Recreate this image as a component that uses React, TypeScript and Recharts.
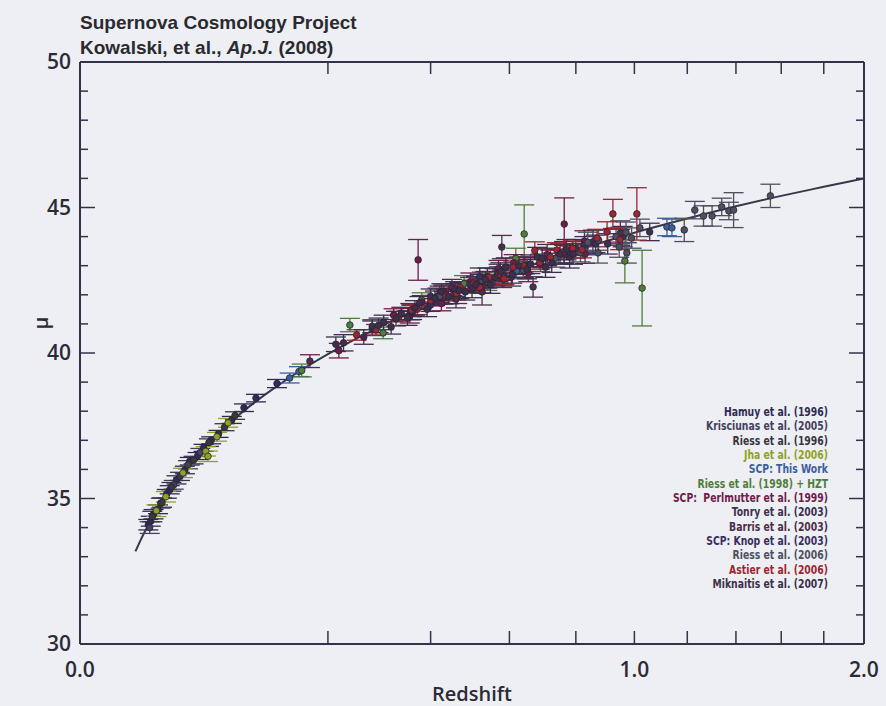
import React from 'react';
import { ComposedChart, XAxis, YAxis, Line, Scatter, ErrorBar, ReferenceLine } from 'recharts';

// ---------- layout ----------
const W = 886;
const H = 706;
const PLOT = { left: 80, right: 864, top: 62, bottom: 644 };
const AXIS = '#35314a';
const BG = '#edeff4';
const TEXT = '#2c2a36';

// ---------- ticks ----------
const X_TICKS = [0, 0.2, 0.4, 0.6, 0.8, 1.0, 1.2, 1.4, 1.6, 1.8, 2.0];
const X_LABELS = [0, 1, 2];
const Y_TICKS = [30, 31, 32, 33, 34, 35, 36, 37, 38, 39, 40, 41, 42, 43, 44, 45, 46, 47, 48, 49, 50];
const Y_MAJOR = [35, 40, 45];
const Y_LABELS = [30, 35, 40, 45, 50];

// ---------- best-fit curve ----------
const FIT_Z = [0.01, 0.012, 0.015, 0.02, 0.025, 0.03, 0.04, 0.05, 0.06, 0.07, 0.08, 0.1, 0.12, 0.15, 0.2, 0.25, 0.3, 0.35, 0.4, 0.45, 0.5, 0.55, 0.6, 0.65, 0.7, 0.75, 0.8, 0.9, 1.0, 1.2, 1.4, 1.6, 1.8, 2.0];
const FIT_MU = [33.18, 33.58, 34.06, 34.70, 35.19, 35.60, 36.24, 36.74, 37.15, 37.50, 37.81, 38.32, 38.74, 39.27, 39.96, 40.51, 40.96, 41.36, 41.70, 42.00, 42.28, 42.53, 42.76, 42.97, 43.17, 43.35, 43.53, 43.84, 44.13, 44.62, 45.04, 45.40, 45.71, 46.00];

// ---------- supernova samples: [z, mu, err] ----------
const hamuy = [[0.0152, 34.10, 0.18], [0.0163, 34.22, 0.17], [0.0176, 34.46, 0.16], [0.0198, 34.63, 0.15], [0.0245, 35.16, 0.15], [0.0262, 35.30, 0.14], [0.0303, 35.64, 0.14], [0.0358, 35.98, 0.13], [0.0392, 36.28, 0.13], [0.0450, 36.46, 0.12], [0.0497, 36.74, 0.12], [0.0560, 37.00, 0.12], [0.0625, 37.22, 0.12], [0.0750, 37.70, 0.12], [0.0875, 38.12, 0.13], [0.1008, 38.45, 0.13], [0.1263, 38.95, 0.14]];
const krisciunas = [[0.0158, 34.00, 0.2], [0.0212, 34.84, 0.17], [0.0286, 35.47, 0.15], [0.0380, 36.16, 0.14], [0.0471, 36.58, 0.14]];
const riess96 = [[0.0170, 34.38, 0.18], [0.0219, 34.86, 0.16], [0.0272, 35.40, 0.15], [0.0325, 35.76, 0.14], [0.0420, 36.32, 0.13], [0.0541, 36.92, 0.13], [0.0680, 37.45, 0.12], [0.0782, 37.85, 0.13]];
const jha = [[0.0190, 34.58, 0.2], [0.0240, 35.06, 0.18], [0.0345, 35.88, 0.16], [0.0515, 36.62, 0.16], [0.0533, 36.45, 0.18], [0.0610, 37.12, 0.15], [0.0713, 37.60, 0.15]];
const scpThis = [[0.143, 39.14, 0.17], [0.156, 39.36, 0.17], [0.540, 42.45, 0.22], [0.620, 42.82, 0.22], [0.745, 43.32, 0.24], [0.830, 43.62, 0.25], [0.950, 44.04, 0.28], [1.121, 44.33, 0.30], [1.140, 44.30, 0.30]];
const riess98 = [[0.160, 39.40, 0.22], [0.237, 40.96, 0.23], [0.299, 40.69, 0.20], [0.380, 41.82, 0.25], [0.430, 42.05, 0.25], [0.480, 42.38, 0.28], [0.540, 42.45, 0.30], [0.618, 43.25, 0.35], [0.642, 44.09, 1.00], [0.966, 43.16, 0.75], [1.028, 42.23, 1.30]];
const perlmutter = [[0.172, 39.72, 0.22], [0.218, 40.08, 0.25], [0.320, 41.30, 0.22], [0.354, 41.28, 0.25], [0.372, 43.20, 0.70], [0.380, 41.75, 0.22], [0.425, 41.70, 0.25], [0.430, 42.12, 0.22], [0.450, 42.25, 0.28], [0.463, 41.95, 0.25], [0.496, 42.45, 0.30], [0.526, 42.30, 0.25], [0.570, 42.90, 0.28], [0.580, 42.55, 0.30], [0.612, 43.10, 0.28], [0.654, 42.75, 0.30], [0.763, 44.43, 0.90], [0.828, 43.85, 0.35], [0.830, 43.40, 0.32]];
const tonry = [[0.278, 40.85, 0.25], [0.359, 41.40, 0.25], [0.416, 41.95, 0.28], [0.540, 42.62, 0.30], [0.586, 42.65, 0.30], [0.710, 43.30, 0.30], [0.800, 43.58, 0.32], [0.906, 43.75, 0.35], [0.958, 44.00, 0.35], [1.056, 44.16, 0.30]];
const barris = [[0.355, 41.42, 0.28], [0.421, 42.02, 0.28], [0.460, 41.85, 0.30], [0.526, 42.10, 0.45], [0.570, 42.75, 0.30], [0.579, 43.64, 0.40], [0.605, 42.60, 0.30], [0.640, 42.95, 0.35], [0.668, 42.27, 0.35], [0.710, 43.38, 0.35], [0.762, 43.45, 0.38], [0.856, 43.82, 0.40], [0.950, 44.12, 0.42]];
const knop = [[0.357, 41.45, 0.20], [0.400, 41.65, 0.22], [0.430, 41.90, 0.22], [0.457, 42.15, 0.23], [0.495, 42.35, 0.25], [0.522, 42.45, 0.25], [0.571, 42.68, 0.28], [0.644, 43.00, 0.28], [0.763, 43.40, 0.30], [0.828, 43.70, 0.30], [0.865, 43.75, 0.30]];
const riess06 = [[0.421, 41.95, 0.25], [0.460, 42.08, 0.26], [0.526, 42.50, 0.28], [0.580, 42.62, 0.30], [0.640, 42.85, 0.30], [0.690, 43.10, 0.30], [0.735, 43.25, 0.30], [0.815, 43.45, 0.32], [0.839, 43.80, 0.35], [0.873, 43.44, 0.35], [0.875, 43.88, 0.35], [0.935, 44.00, 0.30], [0.946, 43.64, 0.35], [0.970, 44.15, 0.35], [0.973, 43.44, 0.35], [0.990, 43.95, 0.35], [1.020, 44.30, 0.30], [1.188, 44.23, 0.40], [1.230, 44.91, 0.30], [1.265, 44.71, 0.35], [1.300, 44.71, 0.35], [1.340, 45.02, 0.30], [1.370, 44.88, 0.30], [1.390, 44.91, 0.60], [1.551, 45.40, 0.40]];
const astier = [[0.249, 40.62, 0.18], [0.285, 40.80, 0.18], [0.331, 41.25, 0.18], [0.358, 41.47, 0.17], [0.370, 41.50, 0.18], [0.400, 41.80, 0.18], [0.436, 41.98, 0.19], [0.461, 42.05, 0.19], [0.470, 42.25, 0.18], [0.505, 42.40, 0.19], [0.520, 42.25, 0.19], [0.545, 42.60, 0.20], [0.570, 42.70, 0.20], [0.585, 42.55, 0.20], [0.611, 42.95, 0.21], [0.640, 43.00, 0.22], [0.673, 43.52, 0.30], [0.688, 43.10, 0.22], [0.720, 43.30, 0.23], [0.740, 43.54, 0.25], [0.760, 43.48, 0.25], [0.790, 43.60, 0.25], [0.820, 43.55, 0.28], [0.870, 43.95, 0.30], [0.904, 44.16, 0.35], [0.924, 44.78, 0.50], [0.949, 43.90, 0.35], [1.009, 44.78, 0.90]];
const miknaitis = [[0.213, 40.30, 0.25], [0.226, 40.35, 0.28], [0.262, 40.55, 0.25], [0.278, 40.92, 0.22], [0.290, 40.95, 0.25], [0.300, 41.05, 0.25], [0.315, 40.90, 0.25], [0.325, 41.18, 0.25], [0.336, 41.35, 0.22], [0.349, 41.20, 0.25], [0.365, 41.55, 0.25], [0.375, 41.72, 0.22], [0.392, 41.50, 0.25], [0.400, 41.95, 0.25], [0.410, 41.88, 0.25], [0.425, 42.10, 0.28], [0.442, 41.95, 0.26], [0.458, 42.20, 0.25], [0.468, 42.15, 0.28], [0.483, 42.10, 0.28], [0.500, 42.20, 0.30], [0.510, 42.35, 0.28], [0.520, 42.62, 0.30], [0.535, 42.52, 0.28], [0.548, 42.35, 0.30], [0.560, 42.60, 0.30], [0.575, 42.80, 0.30], [0.590, 42.95, 0.32], [0.608, 42.70, 0.30], [0.627, 43.00, 0.30], [0.650, 42.88, 0.33], [0.660, 43.05, 0.32], [0.680, 43.30, 0.33], [0.695, 43.25, 0.32], [0.705, 42.95, 0.35], [0.724, 43.10, 0.33], [0.750, 43.40, 0.35], [0.770, 43.55, 0.35], [0.780, 43.30, 0.38], [0.791, 43.40, 0.35]];

const SET_NAMES = ['Hamuy et al. (1996)', 'Krisciunas et al. (2005)', 'Riess et al. (1996)', 'Jha et al. (2006)', 'SCP: This Work', 'Riess et al. (1998) + HZT', 'SCP:  Perlmutter et al. (1999)', 'Tonry et al. (2003)', 'Barris et al. (2003)', 'SCP: Knop et al. (2003)', 'Riess et al. (2006)', 'Astier et al. (2006)', 'Miknaitis et al. (2007)'];
const SET_COLORS = ['#2f2a56', '#463f5e', '#38363f', '#8fa226', '#3b5e9e', '#4f7d3a', '#6e1c4a', '#3e3050', '#4c2e4a', '#3a2e5e', '#4e5060', '#9e2630', '#3d2f4b'];
const SET_DATA = [hamuy, krisciunas, riess96, jha, scpThis, riess98, perlmutter, tonry, barris, knop, riess06, astier, miknaitis];

const fitData = FIT_Z.map((z, i) => ({ z, mu: FIT_MU[i] }));
const sets = SET_DATA.map((arr, i) => ({
  name: SET_NAMES[i],
  color: SET_COLORS[i],
  points: arr.map(([z, mu, err]) => ({ z, mu, err })),
}));

const TICK_FONT = "'Open Sans', 'DejaVu Sans', sans-serif";

function XTick(props: any) {
  const { x, payload } = props;
  const v = payload.value;
  const inner = v > 0 && v < 2;
  return (
    <g>
      {inner && <line x1={x} x2={x} y1={PLOT.bottom} y2={PLOT.bottom - 13} stroke={AXIS} strokeWidth={1.5} />}
      {inner && <line x1={x} x2={x} y1={PLOT.top} y2={PLOT.top + 12} stroke={AXIS} strokeWidth={1.5} />}
      {X_LABELS.includes(v) && (
        <text x={x} y={PLOT.bottom + 33} textAnchor="middle" fontFamily={TICK_FONT} fontWeight={600} fontSize={21} fill={TEXT}>
          {v.toFixed(1)}
        </text>
      )}
    </g>
  );
}

function YTick(props: any) {
  const { y, payload } = props;
  const v = payload.value;
  const inner = v > 30 && v < 50;
  const len = Y_MAJOR.includes(v) ? 15 : 8;
  return (
    <g>
      {inner && <line x1={PLOT.left} x2={PLOT.left + len} y1={y} y2={y} stroke={AXIS} strokeWidth={1.5} />}
      {inner && <line x1={PLOT.right} x2={PLOT.right - len} y1={y} y2={y} stroke={AXIS} strokeWidth={1.5} />}
      {Y_LABELS.includes(v) && (
        <text x={PLOT.left - 9} y={y + 7} textAnchor="end" fontFamily={TICK_FONT} fontWeight={600} fontSize={21} fill={TEXT}>
          {v}
        </text>
      )}
    </g>
  );
}

function MuLabel(props: any) {
  const vb = props.viewBox || {};
  const cx = vb.x + 10;
  const cy = vb.y + vb.height / 2 - 30;
  return (
    <text x={cx} y={cy} transform={`rotate(-90, ${cx}, ${cy})`} textAnchor="middle" dominantBaseline="central" fontFamily={TICK_FONT} fontWeight={600} fontSize={20} fill={TEXT}>
      μ
    </text>
  );
}

const makeDot = (color: string) => (p: any) => (
  <circle cx={p.cx} cy={p.cy} r={3.3} fill={color} stroke="#2a2433" strokeWidth={0.8} />
);

export default function App() {
  return (
    <div style={{ position: 'absolute', left: 0, top: 0, width: W, height: H, background: BG, overflow: 'hidden' }}>
      <div style={{ position: 'absolute', left: 80, top: 10, fontFamily: "'Liberation Sans', Arial, sans-serif", fontWeight: 700, fontSize: 19, lineHeight: '25px', color: '#2a2a30' }}>
        <div>Supernova Cosmology Project</div>
        <div>Kowalski, et al., <i>Ap.J.</i> (2008)</div>
      </div>
      <ComposedChart width={W} height={H} margin={{ top: PLOT.top, right: W - PLOT.right, bottom: 0, left: 30 }}>
        <XAxis
          type="number"
          dataKey="z"
          scale="sqrt"
          domain={[0, 2]}
          allowDataOverflow
          ticks={X_TICKS}
          interval={0}
          tick={<XTick />}
          tickLine={false}
          axisLine={{ stroke: AXIS, strokeWidth: 2 }}
          height={H - PLOT.bottom}
          label={{ value: 'Redshift', position: 'insideBottom', offset: 5, fill: TEXT, fontSize: 20, fontWeight: 600, fontFamily: TICK_FONT }}
        />
        <YAxis
          type="number"
          dataKey="mu"
          domain={[30, 50]}
          allowDataOverflow
          ticks={Y_TICKS}
          interval={0}
          tick={<YTick />}
          tickLine={false}
          axisLine={{ stroke: AXIS, strokeWidth: 2 }}
          width={50}
          label={<MuLabel />}
        />
        <ReferenceLine y={50} stroke={AXIS} strokeWidth={2} />
        <ReferenceLine x={2} stroke={AXIS} strokeWidth={2} />
        <Line data={fitData} dataKey="mu" type="monotone" stroke="#3a3646" strokeWidth={2} dot={false} isAnimationActive={false} />
        {sets.map((s) => (
          <Scatter key={s.name} name={s.name} data={s.points} dataKey="mu" fill={s.color} shape={makeDot(s.color)} isAnimationActive={false}>
            <ErrorBar dataKey="err" direction="y" width={10} stroke={s.color} strokeWidth={1.3} />
          </Scatter>
        ))}
      </ComposedChart>
      <div style={{ position: 'absolute', left: 428, top: 405, width: 400, textAlign: 'right', fontFamily: "'DejaVu Sans Condensed', 'Liberation Sans', sans-serif", fontWeight: 700, fontSize: 12, lineHeight: '14.35px', transform: 'scaleX(0.86)', transformOrigin: 'right top' }}>
        {sets.map((s) => (
          <div key={s.name} style={{ color: s.color, whiteSpace: 'pre' }}>{s.name}</div>
        ))}
      </div>
    </div>
  );
}
